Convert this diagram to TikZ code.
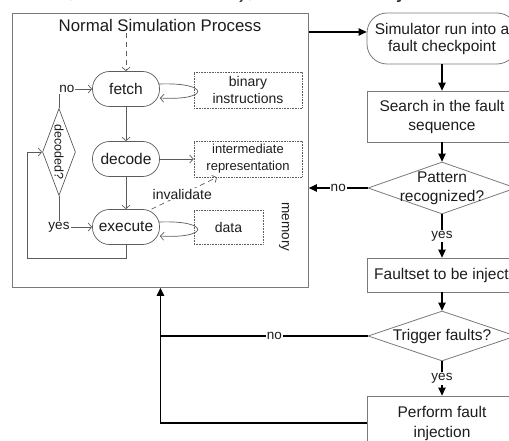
\documentclass[tikz,border=0pt]{standalone}
\usepackage{fontspec}
\setmainfont{Liberation Sans}
\usetikzlibrary{arrows.meta,shapes.geometric,calc}

\definecolor{ink}{HTML}{1C1C1C}
\definecolor{rim}{HTML}{7A7A7A}
\definecolor{wire}{HTML}{5C5C5C}

\newcommand{\fsz}[2]{\fontsize{#1}{#2}\selectfont}

\begin{document}
\begin{tikzpicture}[x=1pt,y=-1pt,
  pill/.style={draw=wire, line width=0.7pt, rounded corners=17pt,
    minimum width=67pt, minimum height=35pt, inner sep=0pt,
    font=\fsz{15.5}{19}, text=ink},
  store/.style={draw=wire, line width=0.6pt, densely dotted, inner sep=0pt,
    align=center, text=ink},
  stepbox/.style={draw=rim, line width=0.8pt, minimum width=150pt,
    inner sep=0pt, align=center, font=\fsz{15.5}{19}, text=ink},
  cond/.style={diamond, draw=rim, line width=0.8pt, inner sep=0pt,
    minimum width=148pt},
  flow/.style={draw=black, line width=1.1pt,
    -{Triangle[length=8pt,width=7.5pt]}},
  link/.style={draw=wire, line width=0.7pt,
    -{Straight Barb[length=3.5pt,width=8pt]}},
  tag/.style={fill=white, inner sep=1pt, text=ink},
]
\useasboundingbox (0,0) rectangle (509,441);
\clip (0,0) rectangle (509,441);

% running text above the figure
\node[anchor=base west, inner sep=0pt, font=\fsz{24.4}{28}, text=ink!90]
  (caption) at (-12,-2.5) {counter, execution time), the fault is injected when};

% ---------- normal simulation process ----------
\node[draw=rim, line width=0.9pt, minimum width=296pt, minimum height=274pt,
  inner sep=0pt, anchor=north west] (nsp) at (12,13) {};
\node[font=\fsz{16.8}{20}, text=ink] (title) at (160,25) {Normal Simulation Process};

\node[pill] (fetch) at (126,89) {fetch};
\node[pill] (decode) at (126,159) {decode};
\node[pill] (execute) at (126,227) {execute};

\node[store, minimum width=108pt, minimum height=36pt, font=\fsz{14}{17}]
  (bin) at (248,90) {binary\\instructions};
\node[store, minimum width=108pt, minimum height=36pt, font=\fsz{13}{17}]
  (ir) at (248,159) {intermediate\\representation};
\node[store, minimum width=69pt, minimum height=34pt, font=\fsz{14}{17}]
  (data) at (228.5,227) {data};
\node[rotate=-90, font=\fsz{13.5}{16}, text=ink] (memory) at (284,227) {memory};

\node[diamond, draw=wire, line width=0.7pt, minimum width=33pt,
  minimum height=87pt, inner sep=0pt] (dec) at (59,152) {};
\node[rotate=-90, font=\fsz{12.5}{14}, text=ink] (decq) at (dec) {decoded?};

\coordinate (entry) at (126,33);
\draw[link, dashed, dash pattern=on 5pt off 4pt] (entry) -- (fetch.north);
\draw[link] (fetch.south) -- (decode.north);
\draw[link] (decode.south) -- (execute.north);
\draw[link] (decode.east) -- (ir.west);

% fetch / execute access loops
\draw[link] ($(fetch.east)+(-1,-5)$) .. controls +(52,-2) and +(50,3) ..
  ($(fetch.east)+(0,9)$);
\draw[link] ($(execute.east)+(-1,-5)$) .. controls +(52,-2) and +(50,3) ..
  ($(execute.east)+(0,9)$);

% invalidation of the intermediate representation
\draw[link, dashed, dash pattern=on 5pt off 4pt] (execute.35) --
  ([xshift=-31pt]ir.south)
  node[tag, pos=0.47, font=\fsz{14}{17}] (inv) {invalidate};

% decoded? branches
\draw[link] (dec.north) |- (fetch.west)
  node[tag, pos=0.62, font=\fsz{13.5}{16}] (no1) {no};
\draw[link] (dec.south) |- (execute.west)
  node[tag, pos=0.5, font=\fsz{13.5}{16}] (yes1) {yes};
\draw[link] (execute.south) -- ++(0,13) -| ([xshift=-15pt]dec.west) -- (dec.west);

% ---------- fault injection flow ----------
\node[stepbox, rounded corners=20pt, minimum height=51pt, font=\fsz{15.5}{17}]
  (sim) at (442,38.5) {Simulator run into a\\fault checkpoint};
\node[stepbox, minimum height=51pt] (search) at (442,116.5)
  {Search in the fault\\sequence};
\node[cond, minimum height=52pt] (pat) at (442,188) {};
\node[align=center, font=\fsz{15.5}{19}, text=ink] (patq) at (pat)
  {Pattern\\recognized?};
\node[stepbox, minimum width=166pt, minimum height=34pt] (fset) at (450,275)
  {Faultset to be injected};
\node[cond, minimum height=50pt] (trig) at (442,336) {};
\node[font=\fsz{15.5}{19}, text=ink] (trigq) at (trig) {Trigger faults?};
\node[stepbox, minimum height=54pt, font=\fsz{15.5}{20}] (perf) at (442,423)
  {Perform fault\\injection};

\coordinate (out) at ([yshift=-19pt]nsp.north east);
\draw[flow] (out) -- (out -| sim.west);
\draw[flow] (sim.south) -- (search.north);
\draw[flow] (search.south) -- (pat.north);
\draw[flow] (pat.west) -- (pat.west -| nsp.east)
  node[tag, midway, font=\fsz{13.5}{16}] (no2) {no};
\draw[flow] (pat.south) -- (pat.south |- fset.north)
  node[tag, midway, font=\fsz{13.5}{16}] (yes2) {yes};
\draw[flow] (trig.north |- fset.south) -- (trig.north);
\draw[flow] (trig.south) -- (perf.north)
  node[tag, midway, font=\fsz{13.5}{16}] (yes3) {yes};
\draw[line width=1.1pt] (trig.west) -- (trig.west -| nsp.south)
  node[tag, pos=0.45, font=\fsz{13.5}{16}] (no3) {no};
\draw[flow] (perf.west) -| (nsp.south);
\end{tikzpicture}
\end{document}
